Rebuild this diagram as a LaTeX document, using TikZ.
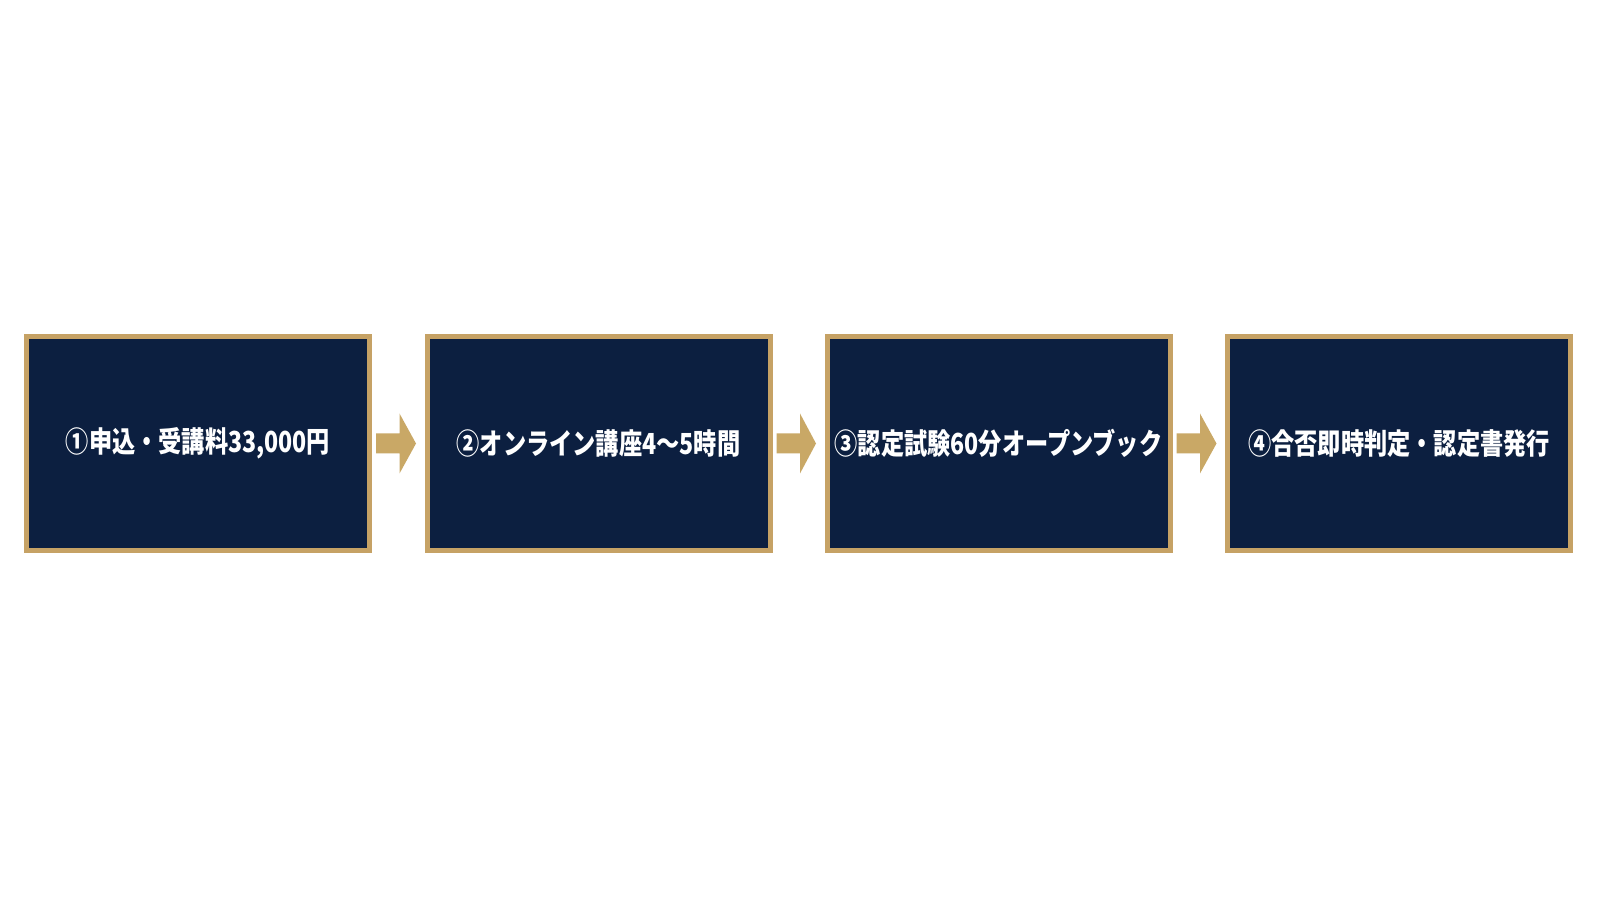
\documentclass[tikz,border=0pt]{standalone}
\usepackage{fontspec}
\newfontfamily\jpfont[FakeStretch=0.8]{Noto Sans CJK JP}
\usetikzlibrary{calc}
\definecolor{navy}{HTML}{0C1F40}
\definecolor{gold}{HTML}{C6A265}
\definecolor{arrowgold}{HTML}{C9A866}
\tikzset{
    stepbox/.style={draw=gold, line width=0.1cm, fill=navy, minimum width=6.86cm, minimum height=4.28cm, inner sep=0pt, text=white, font=\jpfont\bfseries\fontsize{16.5}{19}\selectfont},
}
\begin{document}
\begin{tikzpicture}
    \fill[white] (0,0) rectangle (32,18);
    \useasboundingbox (0,0) rectangle (32,18);
    \node[stepbox] (s1) at (3.96,9.13) {①申込・受講料33,000円};
    \node[stepbox] (s2) at (11.97,9.13) {②オンライン講座4～5時間};
    \node[stepbox] (s3) at (19.97,9.13) {③認定試験60分オープンブック};
    \node[stepbox] (s4) at (27.98,9.13) {④合否即時判定・認定書発行};
    \foreach \i/\j in {1/2, 2/3, 3/4}{
        \fill[arrowgold] ($(s\i.east)+(0.08,0.2)$) -- ($(s\i.east)+(0.55,0.2)$) -- ($(s\i.east)+(0.55,0.6)$) -- ($(s\j.west)+(-0.17,0)$) -- ($(s\i.east)+(0.55,-0.6)$) -- ($(s\i.east)+(0.55,-0.2)$) -- ($(s\i.east)+(0.08,-0.2)$) -- cycle;
    }
\end{tikzpicture}
\end{document}
